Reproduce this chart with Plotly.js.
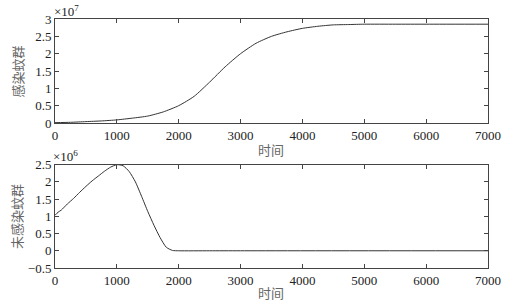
<!DOCTYPE html>
<html>
<head>
<meta charset="utf-8">
<script src="https://cdn.plot.ly/plotly-3.0.1.min.js"></script>
<style>html,body{margin:0;padding:0;background:#fff;}#chart{width:505px;height:302px;}</style>
</head>
<body>
<div id="chart"></div>
<script>
// Time axis (shared tick labels)
const xTicks = [0, 1000, 2000, 3000, 4000, 5000, 6000, 7000];

// Infected mosquito population (units of 10^7)
const tInfected = [0, 250, 500, 750, 1000, 1250, 1500, 1750, 2000, 2250, 2500, 2750, 3000, 3250, 3500, 3750, 4000, 4250, 4500, 4750, 5000, 5500, 6000, 7000];
const infected = [0.01, 0.02, 0.04, 0.06, 0.09, 0.14, 0.20, 0.32, 0.50, 0.77, 1.18, 1.62, 2.00, 2.30, 2.50, 2.63, 2.73, 2.79, 2.83, 2.84, 2.85, 2.85, 2.85, 2.85];
const yTicksTop = [0, 0.5, 1, 1.5, 2, 2.5, 3];

// Uninfected mosquito population (units of 10^6)
const tUninfected = [0, 50, 100, 200, 300, 400, 500, 600, 700, 800, 900, 1000, 1100, 1200, 1300, 1400, 1500, 1600, 1700, 1800, 1900, 2000, 2500, 3000, 7000];
const uninfected = [1.03, 1.12, 1.18, 1.36, 1.52, 1.70, 1.87, 2.03, 2.17, 2.31, 2.43, 2.50, 2.47, 2.30, 2.00, 1.58, 1.14, 0.74, 0.38, 0.10, 0.01, 0, 0, 0, 0];
const yTicksBottom = [-0.5, 0, 0.5, 1, 1.5, 2, 2.5];

const lineStyle = {color: '#333', width: 1, shape: 'spline', smoothing: 0.6};
const tickFont = {family: 'Liberation Serif, serif', size: 13, color: '#222'};
const cjkFont = {family: 'Noto Sans CJK SC, sans-serif', size: 13, color: '#666'};

const axisCommon = {
  showgrid: false, zeroline: false, showline: true, linecolor: '#444', linewidth: 1,
  mirror: 'ticks', ticks: 'inside', ticklen: 4, tickcolor: '#444', tickfont: tickFont
};

const data = [
  {x: tInfected, y: infected, mode: 'lines', line: lineStyle, xaxis: 'x', yaxis: 'y', hoverinfo: 'skip'},
  {x: tUninfected, y: uninfected, mode: 'lines', line: lineStyle, xaxis: 'x2', yaxis: 'y2', hoverinfo: 'skip'}
];

const layout = {
  width: 505, height: 302,
  margin: {l: 55, r: 17, t: 19, b: 34},
  paper_bgcolor: '#fff', plot_bgcolor: '#fff',
  showlegend: false,
  xaxis: Object.assign({}, axisCommon, {domain: [0, 1], range: [0, 7000], tickvals: xTicks, anchor: 'y'}),
  yaxis: Object.assign({}, axisCommon, {domain: [0.5823, 1], range: [0, 3], tickvals: yTicksTop, anchor: 'x'}),
  xaxis2: Object.assign({}, axisCommon, {domain: [0, 1], range: [0, 7000], tickvals: xTicks, anchor: 'y2'}),
  yaxis2: Object.assign({}, axisCommon, {domain: [0, 0.4149], range: [-0.5, 2.5], tickvals: yTicksBottom, anchor: 'x2'}),
  annotations: [
    {text: '×10<sup>7</sup>', xref: 'paper', yref: 'paper', x: -0.008, y: 1.032, xanchor: 'left', yanchor: 'middle', showarrow: false, font: tickFont},
    {text: '×10<sup>6</sup>', xref: 'paper', yref: 'paper', x: -0.01, y: 0.45, xanchor: 'left', yanchor: 'middle', showarrow: false, font: tickFont},
    {text: '感染蚊群', xref: 'paper', yref: 'paper', x: -0.087, y: 0.79, xanchor: 'center', yanchor: 'middle', textangle: -90, showarrow: false, font: cjkFont},
    {text: '未感染蚊群', xref: 'paper', yref: 'paper', x: -0.089, y: 0.207, xanchor: 'center', yanchor: 'middle', textangle: -90, showarrow: false, font: cjkFont},
    {text: '时间', xref: 'paper', yref: 'paper', x: 0.499, y: 0.474, xanchor: 'center', yanchor: 'middle', showarrow: false, font: cjkFont},
    {text: '时间', xref: 'paper', yref: 'paper', x: 0.499, y: -0.1, xanchor: 'center', yanchor: 'middle', showarrow: false, font: cjkFont}
  ]
};

Plotly.newPlot('chart', data, layout, {staticPlot: true, displayModeBar: false});
</script>
</body>
</html>
